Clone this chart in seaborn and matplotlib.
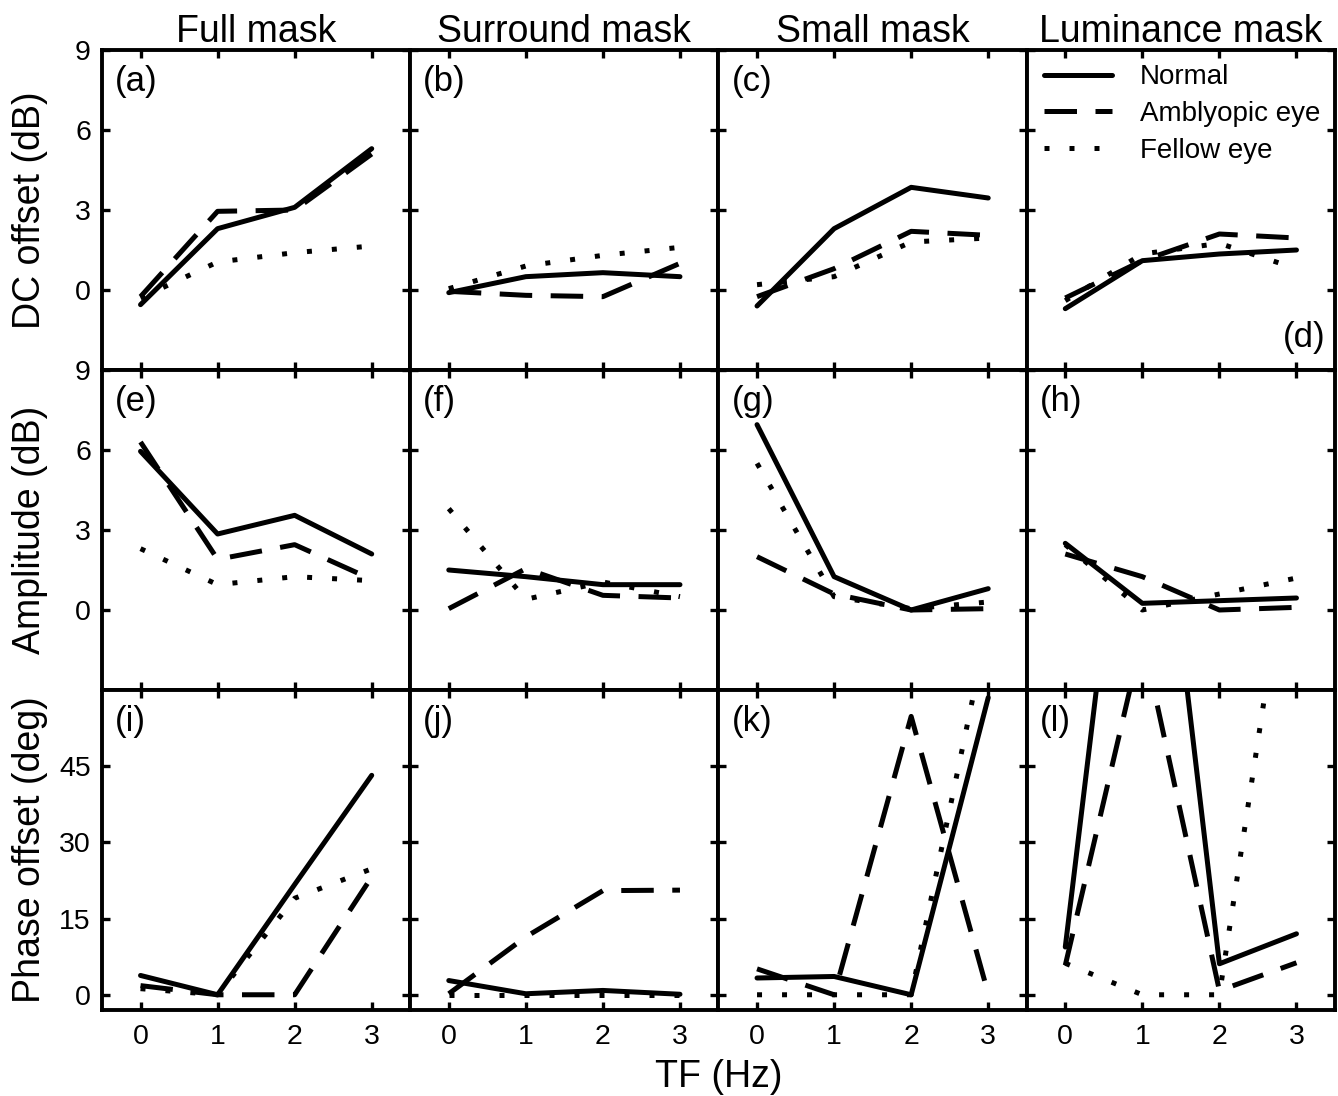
import matplotlib
matplotlib.use("Agg")
import matplotlib.pyplot as plt
import pandas as pd
import seaborn as sns

# temporal frequency (Hz) and panel layout
tf = [0, 1, 2, 3]
masks = ["Full mask", "Surround mask", "Small mask", "Luminance mask"]
groups = ["Normal", "Amblyopic eye", "Fellow eye"]
row_labels = ["DC offset (dB)", "Amplitude (dB)", "Phase offset (deg)"]
panel_letters = list("abcdefghijkl")

# DC offset (dB), one list per mask
dc_normal = [[-0.55, 2.3, 3.1, 5.3], [-0.1, 0.5, 0.65, 0.5],
             [-0.6, 2.3, 3.85, 3.45], [-0.7, 1.1, 1.35, 1.5]]
dc_amblyopic = [[-0.25, 2.95, 3.0, 5.1], [-0.05, -0.2, -0.25, 1.0],
                [-0.25, 0.8, 2.2, 2.05], [-0.3, 1.1, 2.1, 1.95]]
dc_fellow = [[-0.3, 1.05, 1.4, 1.65], [0.05, 0.9, 1.3, 1.6],
             [0.2, 0.5, 1.8, 1.95], [-0.4, 1.35, 1.75, 0.8]]

# Amplitude (dB)
amp_normal = [[5.95, 2.85, 3.55, 2.1], [1.5, 1.25, 0.95, 0.95],
              [6.95, 1.25, 0.0, 0.8], [2.5, 0.25, 0.35, 0.45]]
amp_amblyopic = [[6.3, 1.9, 2.45, 1.15], [0.05, 1.55, 0.55, 0.45],
                 [2.0, 0.6, 0.0, 0.05], [2.1, 1.25, 0.0, 0.1]]
amp_fellow = [[2.3, 0.95, 1.25, 1.1], [3.8, 0.4, 1.05, 0.5],
              [5.5, 0.5, 0.05, 0.3], [2.45, 0.0, 0.6, 1.2]]

# Phase offset (deg)
ph_normal = [[3.8, 0.0, 21.7, 43.2], [2.8, 0.2, 0.85, 0.1],
             [3.3, 3.6, 0.0, 58.5], [9.4, 135.0, 6.1, 12.0]]
ph_amblyopic = [[1.8, 0.0, 0.0, 23.2], [0.2, 11.4, 20.5, 20.6],
                [5.1, 0.0, 54.8, 0.2], [5.8, 70.5, 0.8, 6.3]]
ph_fellow = [[1.2, 0.0, 19.0, 24.8], [0.0, 0.0, 0.0, 0.0],
             [0.0, 0.0, 0.0, 73.0], [6.2, 0.0, 0.0, 100.0]]

row_data = [
    [dc_normal, dc_amblyopic, dc_fellow],
    [amp_normal, amp_amblyopic, amp_fellow],
    [ph_normal, ph_amblyopic, ph_fellow],
]
row_ylim = [(-3, 9), (-3, 9), (-3, 60)]
row_yticks = [[0, 3, 6, 9], [0, 3, 6, 9], [0, 15, 30, 45]]

# long table
records = []
for r, series in enumerate(row_data):
    for g, vals in zip(groups, series):
        for m, mask in enumerate(masks):
            for x, v in zip(tf, vals[m]):
                records.append({"row": r, "mask": mask, "group": g, "tf": x, "value": v})
df = pd.DataFrame(records)

sns.set_style("ticks", rc={"axes.edgecolor": "black", "xtick.color": "black",
                           "ytick.color": "black", "text.color": "black",
                           "axes.labelcolor": "black"})
plt.rcParams["font.family"] = ["Liberation Sans", "DejaVu Sans"]
plt.rcParams["axes.linewidth"] = 2.8

dash_map = {"Normal": "", "Amblyopic eye": (6.5, 3.7), "Fellow eye": (1, 4)}

fig, axes = plt.subplots(3, 4, figsize=(13.38, 10.96), dpi=100)
fig.subplots_adjust(left=102 / 1338, right=1335 / 1338, top=1 - 50 / 1096,
                    bottom=1 - 1010 / 1096, wspace=0, hspace=0)

for r in range(3):
    for c, mask in enumerate(masks):
        ax = axes[r, c]
        sub = df[(df["row"] == r) & (df["mask"] == mask)]
        show_leg = (r == 0 and c == 3)
        sns.lineplot(data=sub, x="tf", y="value", style="group", style_order=groups,
                     dashes=dash_map, color="k", linewidth=3.6, errorbar=None,
                     ax=ax, legend=show_leg)
        ax.set_xlim(-0.5, 3.5)
        ax.set_ylim(*row_ylim[r])
        ax.set_xticks(tf)
        ax.set_yticks(row_yticks[r])
        ax.set_xlabel("")
        ax.set_ylabel("")
        ax.tick_params(direction="in", length=5.5, width=2.4, top=True, right=True,
                       labelsize=20.5)
        ax.tick_params(axis="x", pad=10)
        ax.tick_params(axis="y", pad=8)
        if c > 0:
            ax.tick_params(labelleft=False)
        if r < 2:
            ax.tick_params(labelbottom=False)
        if r == 0:
            ax.set_title(mask, fontsize=27, pad=5)

        letter = "(" + panel_letters[r * 4 + c] + ")"
        if r == 0 and c == 3:
            ax.text(0.968, 0.05, letter, transform=ax.transAxes, ha="right",
                    va="bottom", fontsize=25)
        else:
            ax.text(0.042, 0.952, letter, transform=ax.transAxes, ha="left",
                    va="top", fontsize=25)

        if show_leg:
            sns.move_legend(ax, "upper left", bbox_to_anchor=(0.055, 0.955), title=None,
                            frameon=False, fontsize=20, handlelength=2.45,
                            handletextpad=1.0, labelspacing=0.38, borderpad=0,
                            borderaxespad=0)

for r in range(3):
    pos = axes[r, 0].get_position()
    fig.text(30 / 1338, (pos.y0 + pos.y1) / 2, row_labels[r], rotation=90,
             ha="center", va="center", fontsize=27)

left = axes[2, 0].get_position().x0
right = axes[2, 3].get_position().x1
fig.text((left + right) / 2, 0.008, "TF (Hz)", ha="center", va="baseline", fontsize=27)

fig.savefig("out.png", dpi=100)
